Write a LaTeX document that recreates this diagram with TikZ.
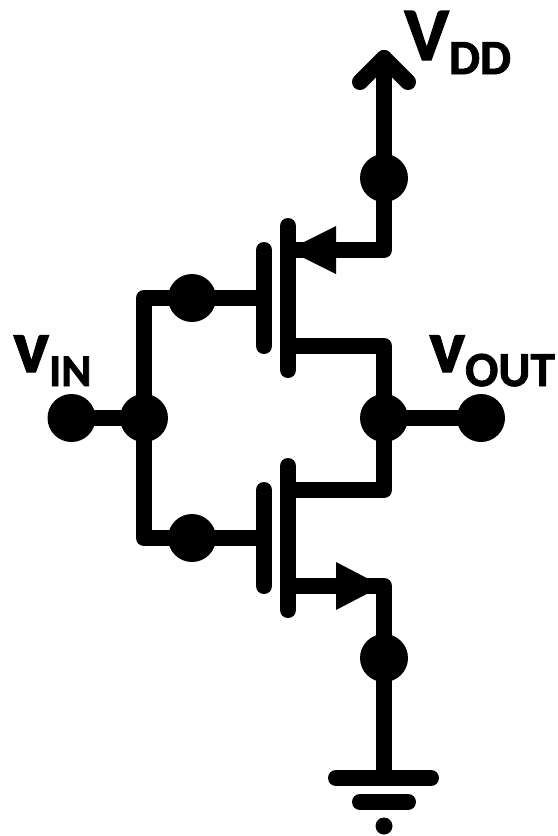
\documentclass[tikz,border=0pt]{standalone}
\usepackage{fontspec}
\setmainfont{Carlito}[FakeBold=1.6]
\newcommand{\sigtext}[3]{{\fontsize{43}{43}\selectfont\bfseries #1}\raisebox{-8pt}{\fontsize{#3}{#3}\selectfont\bfseries #2}}
\tikzset{
    wire/.style={line width=16*0.02cm, line join=round, line cap=round},
    dot/.style={circle, fill=black, inner sep=0pt, minimum size=48*0.02cm},
    tinydot/.style={circle, fill=black, inner sep=0pt, minimum size=17*0.02cm},
    siglabel/.style={anchor=base west, inner sep=0pt},
}

\begin{document}
\begin{tikzpicture}[x=0.02cm, y=-0.02cm]
        \useasboundingbox (0,0) rectangle (558,836);
        % top rail and pmos source
        \coordinate (tip) at (384,58);
        \coordinate (tipL) at (360,82);
        \coordinate (tipR) at (408,82);
        \coordinate (ps) at (384,250);
        \coordinate (psgate) at (288,250);
        % pmos
        \coordinate (pchanT) at (288,226);
        \coordinate (pchanB) at (288,370);
        \coordinate (pgateT) at (264,250);
        \coordinate (pgateB) at (264,346);
        \coordinate (pdrain) at (288,346);
        \coordinate (pdrainR) at (384,346);
        % nmos
        \coordinate (nchanT) at (288,466);
        \coordinate (nchanB) at (288,610);
        \coordinate (ngateT) at (264,490);
        \coordinate (ngateB) at (264,586);
        \coordinate (ndrain) at (288,490);
        \coordinate (ndrainR) at (384,490);
        \coordinate (nsrc) at (288,586);
        \coordinate (nsrcR) at (384,586);
        % gate wires
        \coordinate (gtop) at (144,298);
        \coordinate (gbot) at (144,538);
        \coordinate (pg) at (264,298);
        \coordinate (ng) at (264,538);
        % ground
        \coordinate (gnd) at (384,778);
        \coordinate (gndAL) at (336,778);
        \coordinate (gndAR) at (431,778);
        \coordinate (gndBL) at (360,802);
        \coordinate (gndBR) at (408,802);

        \node [dot] (vddDot) at (384,178) {};
        \node [dot] (pgDot) at (192,298) {};
        \node [dot] (ngDot) at (192,538) {};
        \node [dot] (vinDot) at (71.5,418) {};
        \node [dot] (inJoin) at (144,418) {};
        \node [dot] (outJoin) at (384,418) {};
        \node [dot] (voutDot) at (481,418) {};
        \node [dot] (gndDot) at (384,658) {};
        \node [tinydot] (earth) at (384,826) {};

        \draw[wire] (tipL) -- (tip) -- (tipR);
        \draw[wire] (tip) -- (ps) -- (psgate);
        \draw[wire] (pchanT) -- (pchanB);
        \draw[wire] (pgateT) -- (pgateB);
        \draw[wire] (pdrain) -- (pdrainR) -- (ndrainR) -- (ndrain);
        \draw[wire] (nchanT) -- (nchanB);
        \draw[wire] (ngateT) -- (ngateB);
        \draw[wire] (nsrc) -- (nsrcR) -- (gnd);
        \draw[wire] (pg) -- (gtop) -- (gbot) -- (ng);
        \draw[wire] (vinDot) -- (inJoin);
        \draw[wire] (outJoin) -- (voutDot);
        \draw[wire] (gndAL) -- (gndAR);
        \draw[wire] (gndBL) -- (gndBR);
        \fill (288,250) -- (336,226) -- (336,274) -- cycle;
        \fill (382,586) -- (336,562) -- (336,610) -- cycle;

        \node [siglabel] (vddLabel) at (404,60) {\sigtext{V}{DD}{28}};
        \node [siglabel] (vinLabel) at (13,372) {\sigtext{v}{IN}{26}};
        \node [siglabel] (voutLabel) at (429,372) {\sigtext{v}{OUT}{28}};
    \end{tikzpicture}
\end{document}
